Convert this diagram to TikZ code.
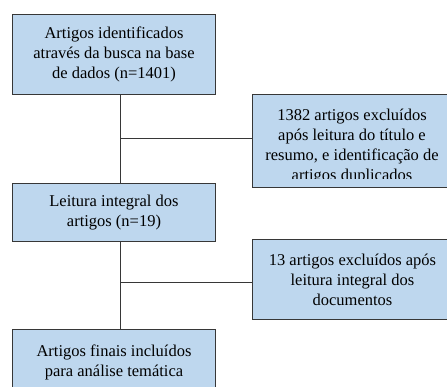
\documentclass[tikz,border=0pt]{standalone}
\usepackage{fontspec}
\setmainfont{Liberation Serif}
\newfontfamily\flowfont{Liberation Serif}
\usetikzlibrary{positioning}

\definecolor{boxblue}{RGB}{190,215,238}
\definecolor{edgegray}{RGB}{55,55,55}

\begin{document}
\begin{tikzpicture}[
  x=1pt, y=-1pt,
  stagebox/.style={
    rectangle, draw=edgegray, fill=boxblue, line width=1pt,
    minimum width=203pt, inner sep=0pt, align=center,
    font=\flowfont\fontsize{16.5}{20}\selectfont, anchor=north west
  },
  exclbox/.style={
    rectangle, draw=edgegray, fill=boxblue, line width=1pt,
    minimum width=200pt, inner sep=0pt, align=center,
    font=\flowfont\fontsize{16.5}{20}\selectfont, anchor=north west
  },
  plaintext/.style={inner sep=0pt, align=center,
    font=\flowfont\fontsize{16.5}{20}\selectfont},
  conn/.style={draw=edgegray, line width=1pt},
]

%% page frame
\useasboundingbox[fill=white] (0,0) rectangle (447,386);

%% ════════════════════════════════════════════════
%% Main column
%% ════════════════════════════════════════════════
\node[stagebox, minimum height=80pt] (search) at (12,14)
  {Artigos identificados\\através da busca na base\\de dados (n=1401)};
\node[stagebox, minimum height=58pt] (fulltext) at (12,183)
  {Leitura integral dos\\artigos (n=19)};
\node[stagebox, minimum height=66pt] (final) at (12,329)
  {Artigos finais incluídos\\para análise temática};

%% ════════════════════════════════════════════════
%% Exclusions
%% ════════════════════════════════════════════════
\node[exclbox, minimum height=93pt] (excltitle) at (252,94) {};
\node[exclbox, minimum height=80pt] (exclfull) at (252,239)
  {13 artigos excluídos após\\leitura integral dos\\documentos};

%% text of the first exclusion box runs past its inner margin
\begin{scope}
  \clip (excltitle.north west) rectangle ([yshift=10pt]excltitle.south east);
  \node[plaintext] (excltitletext) at (352,147)
    {1382 artigos excluídos\\após leitura do título e\\resumo, e identificação de\\artigos duplicados};
\end{scope}

%% ════════════════════════════════════════════════
%% Connectors
%% ════════════════════════════════════════════════
\coordinate (trunk) at (120,0);

\draw[conn] (search.south -| trunk) -- (fulltext.north -| trunk);
\draw[conn] (fulltext.south -| trunk) -- (final.north -| trunk);

\draw[conn] ([yshift=2.5pt]excltitle.west -| trunk) -- ([yshift=2.5pt]excltitle.west);
\draw[conn] ([yshift=-3pt]exclfull.west -| trunk) -- ([yshift=-3pt]exclfull.west);

\end{tikzpicture}
\end{document}
